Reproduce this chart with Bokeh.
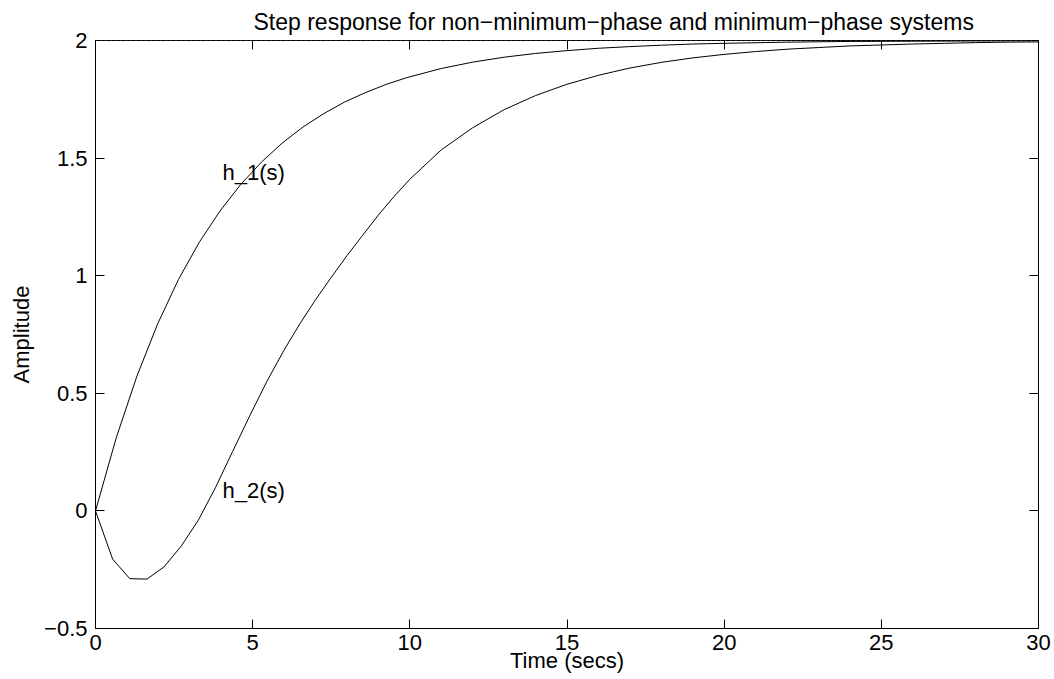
from bokeh.plotting import figure
from bokeh.models import Range1d, FixedTicker, LinearAxis, Span, ColumnDataSource
from bokeh.core.properties import value
from bokeh.embed import file_html
from bokeh.resources import INLINE

# ---- data ----
h1_t = [0, 0.66, 1.32, 1.98, 2.64, 3.3, 3.96, 4.62, 5.28, 5.94, 6.6, 7.26, 7.92,
        8.58, 9.24, 9.9, 11, 12, 13, 14, 15, 16, 17, 18, 19, 20, 22, 24, 26, 28, 30]
h1_v = [0, 0.311, 0.574, 0.796, 0.984, 1.142, 1.275, 1.388, 1.483, 1.564, 1.632,
        1.689, 1.738, 1.778, 1.813, 1.842, 1.881, 1.908, 1.929, 1.945, 1.957, 1.967,
        1.974, 1.980, 1.985, 1.988, 1.993, 1.996, 1.997, 1.998, 1.999]

h2_t = [0, 0.545, 1.09, 1.636, 2.18, 2.73, 3.27, 3.82, 4.36, 4.91, 5.45, 6.0, 6.5,
        7.0, 7.5, 8.0, 8.5, 9.0, 9.5, 10, 11, 12, 13, 14, 15, 16, 17, 18, 19, 20,
        21, 22, 23, 24, 25, 26, 27, 28, 29, 30]
h2_v = [0, -0.205, -0.288, -0.290, -0.238, -0.149, -0.04, 0.10, 0.252, 0.405,
        0.55, 0.684, 0.795, 0.898, 0.993, 1.085, 1.172, 1.258, 1.337, 1.41, 1.535,
        1.629, 1.706, 1.766, 1.814, 1.852, 1.883, 1.907, 1.926, 1.941, 1.953,
        1.963, 1.970, 1.977, 1.981, 1.985, 1.988, 1.991, 1.993, 1.994]

final_value = 2

x_ticks = [0, 5, 10, 15, 20, 25, 30]
y_ticks = [-0.5, 0, 0.5, 1, 1.5, 2]
y_tick_labels = ["\u22120.5", "0", "0.5", "1", "1.5", "2"]

title_text = "Step response for non\u2212minimum\u2212phase and minimum\u2212phase systems"
x_label = "Time (secs)"
y_label = "Amplitude"

curve_labels = ["h_1(s)", "h_2(s)"]
label_x = [4.04, 4.04]
label_y = [1.44, 0.085]

FONT = "Liberation Sans"
FS = "22px"

p = figure(width=1054, height=679, frame_width=943, frame_height=588,
           output_backend="svg", toolbar_location=None,
           x_range=Range1d(0, 30), y_range=Range1d(-0.5, 2),
           min_border_left=95, min_border_right=16, min_border_top=40,
           min_border_bottom=51, background_fill_color="white",
           border_fill_color="white")

p.xgrid.visible = False
p.ygrid.visible = False
p.outline_line_color = "black"
p.outline_line_width = 1

# title
p.title.text = title_text
p.title.text_font = FONT
p.title.text_font_size = "23px"
p.title.text_font_style = "normal"
p.title.text_color = "black"
p.title.align = "left"
p.title.offset = 158
p.title.standoff = 11


def style_axis(ax, show_labels=True):
    ax.axis_line_color = "black"
    ax.major_tick_line_color = "black"
    ax.major_tick_in = 9
    ax.major_tick_out = 0
    ax.minor_tick_in = 0
    ax.minor_tick_out = 0
    ax.minor_tick_line_color = None
    ax.major_label_text_font = FONT
    ax.major_label_text_color = "black"
    if show_labels:
        ax.major_label_text_font_size = FS
    else:
        ax.major_label_text_font_size = "0px"
        ax.major_label_standoff = 0
        ax.major_label_text_alpha = 0


# bottom axis
xa = p.xaxis[0]
xa.ticker = FixedTicker(ticks=x_ticks)
style_axis(xa)
xa.major_label_standoff = 6
xa.axis_label = x_label
xa.axis_label_text_font = FONT
xa.axis_label_text_font_size = FS
xa.axis_label_text_font_style = "normal"
xa.axis_label_text_color = "black"
xa.axis_label_standoff = -5

# left axis
ya = p.yaxis[0]
ya.ticker = FixedTicker(ticks=y_ticks)
ya.major_label_overrides = {t: s for t, s in zip(y_ticks, y_tick_labels)}
style_axis(ya)
ya.major_label_standoff = 8
ya.axis_label = y_label
ya.axis_label_text_font = FONT
ya.axis_label_text_font_size = FS
ya.axis_label_text_font_style = "normal"
ya.axis_label_text_color = "black"
ya.axis_label_standoff = 7

# top & right axes: ticks only
top = LinearAxis(ticker=FixedTicker(ticks=x_ticks))
style_axis(top, show_labels=False)
p.add_layout(top, "above")
right = LinearAxis(ticker=FixedTicker(ticks=y_ticks))
style_axis(right, show_labels=False)
p.add_layout(right, "right")

# steady-state dotted line
p.add_layout(Span(location=final_value, dimension="width", line_color="gray",
                  line_dash="1 4", line_width=1))

src1 = ColumnDataSource(dict(t=h1_t, v=h1_v))
src2 = ColumnDataSource(dict(t=h2_t, v=h2_v))
p.line("t", "v", source=src1, line_color="black", line_width=1)
p.line("t", "v", source=src2, line_color="black", line_width=1)

p.text(x=label_x, y=label_y, text=curve_labels, text_font=value(FONT),
       text_font_size=value(FS), text_baseline="middle", text_align="left",
       text_color="black")

open("out.html", "w").write(file_html(p, INLINE))
